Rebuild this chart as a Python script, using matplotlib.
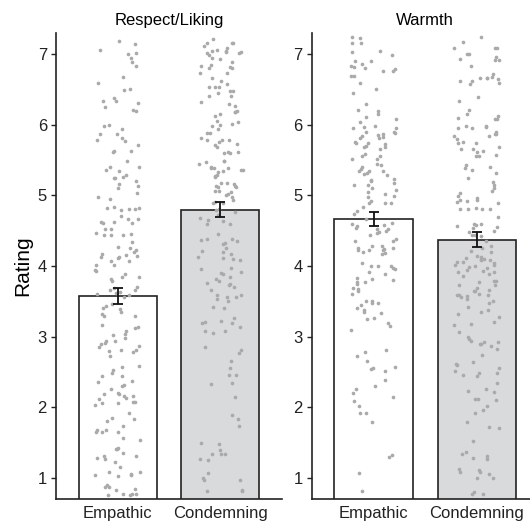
import matplotlib
matplotlib.use("Agg")
import matplotlib.pyplot as plt
import numpy as np

plt.rcParams['font.family'] = ['Liberation Sans', 'DejaVu Sans']

# panels and conditions
panels = ['Respect/Liking', 'Warmth']
conditions = ['Empathic', 'Condemning']

# bar heights (means) and standard errors
means = {
  'Respect/Liking': [3.58, 4.80],
  'Warmth': [4.67, 4.37],
}
ses = {
  'Respect/Liking': [0.115, 0.105],
  'Warmth': [0.10, 0.105],
}

# rating levels and estimated number of participants per level
levels = [1.0, 1.5, 2.0, 2.5, 3.0, 3.5, 4.0, 4.5, 5.0, 5.5, 6.0, 6.5, 7.0]
counts = {
  ('Respect/Liking', 'Empathic'):   [18, 16, 16, 12, 17, 17, 20, 16, 15, 11, 11, 8, 8],
  ('Respect/Liking', 'Condemning'): [7, 9, 3, 6, 11, 13, 16, 14, 20, 22, 18, 16, 22],
  ('Warmth', 'Empathic'):           [2, 2, 7, 9, 5, 16, 20, 20, 18, 22, 20, 6, 16],
  ('Warmth', 'Condemning'):         [10, 8, 9, 12, 13, 20, 26, 15, 18, 15, 18, 12, 12],
}

bar_colors = ['#ffffff', '#d9dadc']
ink = '#222222'

fig = plt.figure(figsize=(5.30, 5.27), dpi=100)
axes = [
  fig.add_axes([56 / 530, 28 / 527, 226 / 530, 466 / 527]),
  fig.add_axes([311.7 / 530, 28 / 527, 227 / 530, 466 / 527]),
]

rng = np.random.default_rng(7)  # jitter only (display position, like geom_jitter)

for ax, panel in zip(axes, panels):
  x = np.arange(1, len(conditions) + 1)
  ax.bar(x, means[panel], width=0.76, color=bar_colors, edgecolor=ink,
         linewidth=1.2, zorder=1)

  for i, cond in enumerate(conditions):
    vals = np.repeat(levels, counts[(panel, cond)])
    jx = x[i] + rng.uniform(-0.22, 0.22, len(vals))
    jy = vals + rng.uniform(-0.25, 0.25, len(vals))
    ax.scatter(jx, jy, s=7, color='#aaaaaa', linewidths=0, zorder=2)

  ax.errorbar(x, means[panel], yerr=ses[panel], fmt='none', ecolor='#111111',
              elinewidth=1.3, capsize=3.5, capthick=1.3, zorder=3)

  ax.set_xlim(0.4, 2.6)
  ax.set_ylim(0.7, 7.3)
  ax.set_yticks(range(1, 8))
  ax.set_xticks(x)
  ax.set_xticklabels(conditions)
  ax.set_title(panel, fontsize=12, pad=6)

  for side in ['top', 'right']:
    ax.spines[side].set_visible(False)
  for side in ['left', 'bottom']:
    ax.spines[side].set_color(ink)
    ax.spines[side].set_linewidth(1.2)
  ax.tick_params(axis='y', length=3.5, width=1.0, color=ink, labelsize=12,
                 labelcolor='#222222', pad=3)
  ax.tick_params(axis='x', length=0, labelsize=12, labelcolor='#222222', pad=5)

axes[0].set_ylabel('Rating', fontsize=15, labelpad=4)

fig.savefig('out.png', dpi=100)
